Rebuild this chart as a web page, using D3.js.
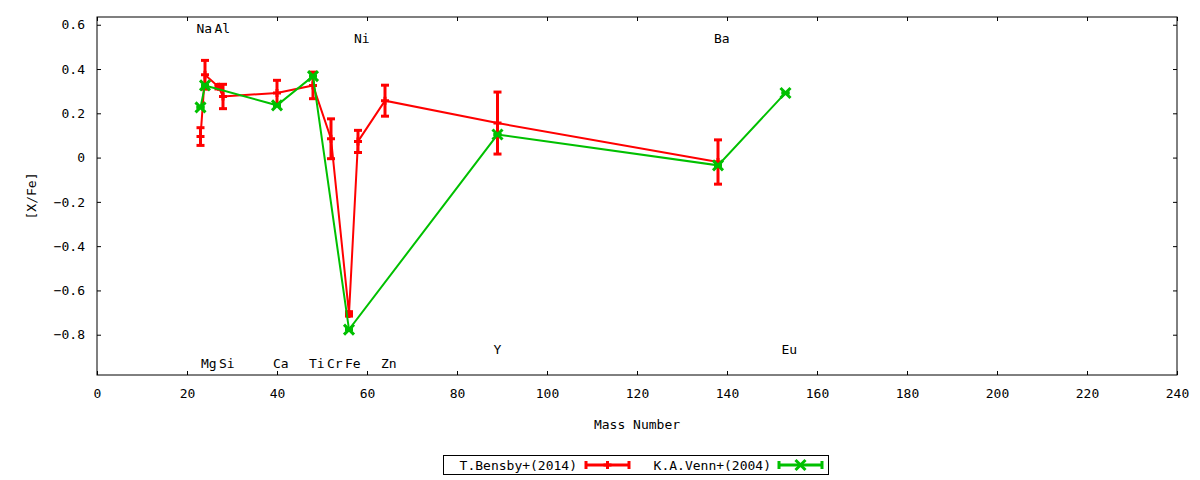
<!DOCTYPE html>
<html>
<head>
<meta charset="utf-8">
<script src="https://cdn.jsdelivr.net/npm/d3@7"></script>
<style>
  body { margin: 0; background: #fff; }
  text { font-family: "DejaVu Sans Mono", monospace; font-size: 13px; fill: #000; }
</style>
</head>
<body>
<svg id="chart" width="1200" height="480"></svg>
<script>
// T.Bensby+(2014)
const bensbyMass = [23, 24, 27, 28, 40, 48, 52, 56, 58, 64, 89, 138];
const bensbyVal = [0.095, 0.374, 0.32, 0.276, 0.292, 0.326, 0.085, -0.706, 0.073, 0.257, 0.156, -0.02];
const bensbyErr = [0.04, 0.065, 0.01, 0.055, 0.057, 0.06, 0.09, 0.01, 0.05, 0.07, 0.14, 0.10];

// K.A.Venn+(2004)
const vennMass = [23, 24, 40, 48, 56, 89, 138, 153];
const vennVal = [0.227, 0.326, 0.236, 0.368, -0.777, 0.104, -0.035, 0.292];
const vennErr = [0, 0, 0, 0, 0, 0, 0, 0];

// element labels (mass, height in [X/Fe])
const elemNames = ["Na", "Al", "Ni", "Ba", "Mg", "Si", "Ca", "Ti", "Cr", "Fe", "Zn", "Y", "Eu"];
const elemMass = [23, 27, 58, 138, 24, 28, 40, 48, 52, 56, 64, 89, 153];
const elemY = [0.585, 0.585, 0.54, 0.54, -0.93, -0.93, -0.93, -0.93, -0.93, -0.93, -0.93, -0.866, -0.866];

const xTicks = d3.range(0, 241, 20);
const yTicks = [-0.8, -0.6, -0.4, -0.2, 0, 0.2, 0.4, 0.6];

const margin = { top: 17, right: 23, bottom: 105, left: 97 };
const svg = d3.select("#chart");
const width = 1200 - margin.left - margin.right;
const height = 480 - margin.top - margin.bottom;
const g = svg.append("g").attr("transform", `translate(${margin.left},${margin.top})`);

const x = d3.scaleLinear().domain([0, 240]).range([0, width]);
const y = d3.scaleLinear().domain([-0.982, 0.635]).range([height, 0]);

const fmtY = d => (d === 0 ? "0" : d3.format(".1f")(d));

// axes with inward ticks, mirrored
function styleAxis(sel) {
  sel.select(".domain").remove();
  sel.selectAll(".tick line").attr("stroke", "#000");
  sel.selectAll(".tick text").attr("font-family", null).attr("font-size", null).attr("fill", "#000");
}
g.append("g").attr("transform", `translate(0,${height})`)
  .call(d3.axisBottom(x).tickValues(xTicks).tickSize(-4).tickPadding(14))
  .call(styleAxis);
g.append("g")
  .call(d3.axisTop(x).tickValues(xTicks).tickSize(-4).tickFormat(""))
  .call(styleAxis);
g.append("g")
  .call(d3.axisLeft(y).tickValues(yTicks).tickSize(-4).tickPadding(12).tickFormat(fmtY))
  .call(styleAxis);
g.append("g").attr("transform", `translate(${width},0)`)
  .call(d3.axisRight(y).tickValues(yTicks).tickSize(-4).tickFormat(""))
  .call(styleAxis);

g.append("rect").attr("width", width).attr("height", height)
  .attr("fill", "none").attr("stroke", "#000").attr("stroke-width", 1);

// axis titles
g.append("text").attr("x", width / 2).attr("y", height + 54)
  .attr("text-anchor", "middle").text("Mass Number");
g.append("text").attr("transform", `translate(-61,${height / 2}) rotate(-90)`)
  .attr("text-anchor", "middle").text("[X/Fe]");

// element labels
g.selectAll(".elem").data(elemNames).join("text")
  .attr("class", "elem")
  .attr("x", (d, i) => x(elemMass[i]) - 4)
  .attr("y", (d, i) => y(elemY[i]))
  .attr("dy", "0.35em")
  .text(d => d);

function drawSeries(mass, val, err, color, marker) {
  const s = g.append("g");
  const pts = mass.map((m, i) => ({ m, v: val[i], e: err[i] }));
  s.append("path").datum(pts)
    .attr("fill", "none").attr("stroke", color).attr("stroke-width", 2)
    .attr("d", d3.line().x(d => x(d.m)).y(d => y(d.v)));
  const bars = s.selectAll(".bar").data(pts).join("g");
  bars.append("line")
    .attr("x1", d => x(d.m)).attr("x2", d => x(d.m))
    .attr("y1", d => y(d.v - d.e)).attr("y2", d => y(d.v + d.e))
    .attr("stroke", color).attr("stroke-width", 3);
  [-1, 1].forEach(sgn => {
    bars.append("line")
      .attr("x1", d => x(d.m) - 4).attr("x2", d => x(d.m) + 4)
      .attr("y1", d => y(d.v + sgn * d.e)).attr("y2", d => y(d.v + sgn * d.e))
      .attr("stroke", color).attr("stroke-width", 3);
  });
  bars.append("path")
    .attr("transform", d => `translate(${x(d.m)},${y(d.v)})`)
    .attr("d", marker)
    .attr("fill", "none").attr("stroke", color).attr("stroke-width", 3);
}
const plusMark = "M-4,0H4M0,-4V4";
const crossMark = "M-5,-5L5,5M-5,5L5,-5";

drawSeries(bensbyMass, bensbyVal, bensbyErr, "#ff0000", plusMark);
drawSeries(vennMass, vennVal, vennErr, "#00c000", crossMark);

// legend
const lg = svg.append("g");
lg.append("rect").attr("x", 443.5).attr("y", 455.5).attr("width", 385).attr("height", 19)
  .attr("fill", "none").attr("stroke", "#000");
const legendNames = ["T.Bensby+(2014)", "K.A.Venn+(2004)"];
const legendColors = ["#ff0000", "#00c000"];
const legendMarks = [plusMark, crossMark];
legendNames.forEach((name, i) => {
  const tx = 577 + i * 194, lx = 586 + i * 193;
  lg.append("text").attr("x", tx).attr("y", 465).attr("dy", "0.35em")
    .attr("text-anchor", "end").text(name);
  const c = legendColors[i];
  lg.append("line").attr("x1", lx).attr("x2", lx + 43).attr("y1", 465).attr("y2", 465)
    .attr("stroke", c).attr("stroke-width", 3);
  [lx, lx + 43].forEach(px => lg.append("line").attr("x1", px).attr("x2", px)
    .attr("y1", 461).attr("y2", 469).attr("stroke", c).attr("stroke-width", 3));
  lg.append("path").attr("transform", `translate(${lx + 21.5},465)`)
    .attr("d", legendMarks[i]).attr("fill", "none").attr("stroke", c).attr("stroke-width", 3);
});
</script>
</body>
</html>
